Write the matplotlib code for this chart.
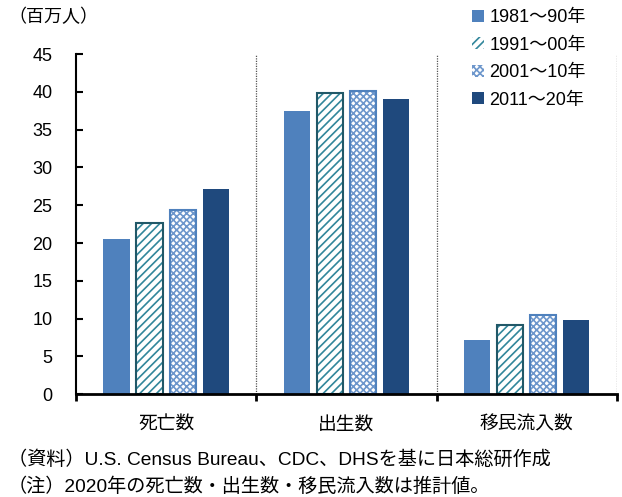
import matplotlib.pyplot as plt
import numpy as np

plt.rcParams['font.family'] = ['Liberation Sans', 'Noto Sans CJK JP']
plt.rcParams['hatch.linewidth'] = 1.2

categories = ['死亡数', '出生数', '移民流入数']
periods = ['1981～90年', '1991～00年', '2001～10年', '2011～20年']
values = [
    [20.6, 37.5, 7.2],
    [22.7, 39.9, 9.1],
    [24.4, 40.1, 10.5],
    [27.2, 39.1, 9.8],
]
yticks = [0, 5, 10, 15, 20, 25, 30, 35, 40, 45]

# face, edge, hatch per period
styles = [
    dict(color='#4F81BD', edgecolor='#4F81BD', hatch=None),
    dict(color='white', edgecolor='#31869B', hatch='////', frame='#215868'),
    dict(color='white', edgecolor='#6E97CC', hatch='xxxxx', frame='#4F81BD'),
    dict(color='#1F497D', edgecolor='#1F497D', hatch=None),
]

fig = plt.figure(figsize=(6.22, 4.97), dpi=100)
ax = fig.add_axes([0.122, 0.207, 0.870, 0.684])

x = np.arange(len(categories))
width = 0.145
step = 0.183
handles = []
for i, (vals, st) in enumerate(zip(values, styles)):
    pos = x + (i - 1.5) * step
    b = ax.bar(pos, vals, width, color=st['color'], edgecolor=st['edgecolor'],
               hatch=st['hatch'], linewidth=0, zorder=2)
    if 'frame' in st:
        ax.bar(pos, vals, width, fill=False, edgecolor=st['frame'],
               linewidth=1.5, zorder=3)
    handles.append(b)

for xb in [0.5, 1.5, 2.5]:
    ax.axvline(xb, color='#555555', linestyle=(0, (1, 1)), linewidth=0.9, zorder=1)

ax.set_xlim(-0.5, 2.5)
ax.set_ylim(0, 45)
ax.set_yticks(yticks)
ax.set_xticks(x)
ax.set_xticklabels(categories, fontsize=13.5, family=['Noto Sans CJK JP'])
ax.tick_params(axis='x', length=0, pad=14)
ax.set_xticks([-0.5, 0.5, 1.5, 2.5], minor=True)
ax.tick_params(axis='x', which='minor', direction='out', length=5, width=2)
ax.tick_params(axis='y', direction='in', length=5, width=1.5, labelsize=13, pad=17)

for s in ['top', 'right']:
    ax.spines[s].set_visible(False)
ax.spines['left'].set_linewidth(1.5)
ax.spines['bottom'].set_linewidth(2)
ax.spines['bottom'].set_zorder(4)

fig.text(0.014, 0.965, '（百万人）', fontsize=13, family=['Noto Sans CJK JP'],
         va='center', ha='left')

leg = fig.legend(handles, periods, loc='upper left', bbox_to_anchor=(0.742, 1.003),
                 frameon=False, fontsize=13, handlelength=0.65, handleheight=0.65,
                 handletextpad=0.3, labelspacing=0.58, borderaxespad=0.2)
for t in leg.get_texts():
    t.set_family(['Liberation Sans', 'Noto Sans CJK JP'])

fig.text(0.013, 0.075, '（資料）U.S. Census Bureau、CDC、DHSを基に日本総研作成',
         fontsize=13.8, va='center', ha='left')
fig.text(0.013, 0.021, '（注）2020年の死亡数・出生数・移民流入数は推計値。',
         fontsize=13.8, va='center', ha='left')

fig.savefig('out.png', dpi=100)
